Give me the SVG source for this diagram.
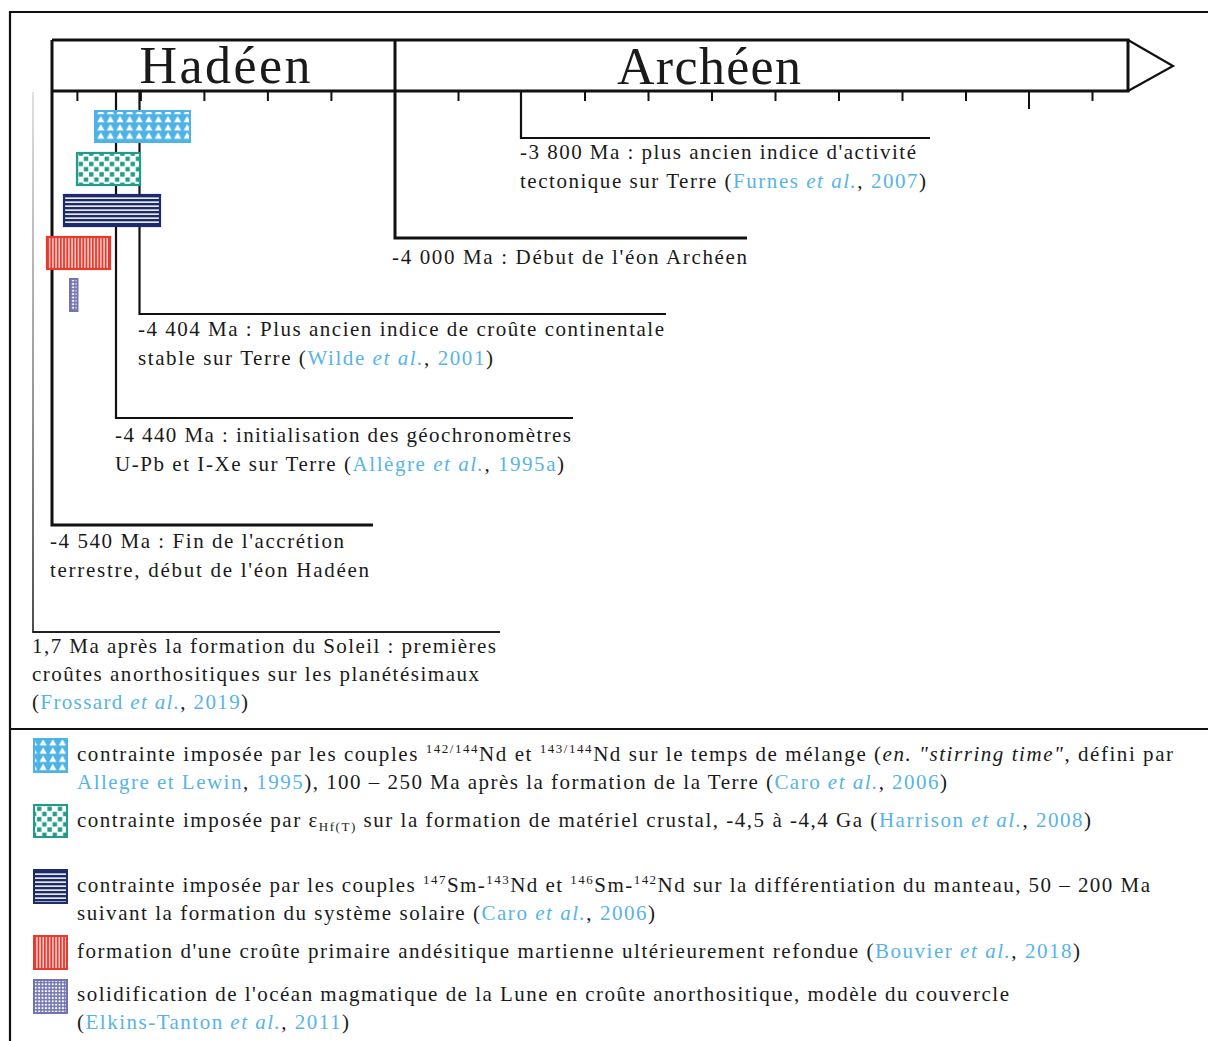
<svg xmlns="http://www.w3.org/2000/svg" width="1208" height="1041" viewBox="0 0 1208 1041">
<style>
text{font-family:"Liberation Serif","Times New Roman",serif;fill:#1a1a1a;}
.t{font-size:21px;}
.big{font-size:52px;}
.c{fill:#56b4e9;}
.i{font-style:italic;}
.sm{font-size:13px;}
.ln{stroke:#111;stroke-width:2.2;fill:none;}
.th{stroke:#111;stroke-width:3;fill:none;}
.tk{stroke:#111;stroke-width:2;}
</style>
<defs>
<pattern id="pTri" patternUnits="userSpaceOnUse" width="9.6" height="8.2">
<rect width="9.6" height="8.2" fill="#4db3e6"/>
<polygon points="1.2,7.6 4.8,1.2 8.4,7.6" fill="#fff"/>
</pattern>
<pattern id="pChk" patternUnits="userSpaceOnUse" width="10.4" height="10.4">
<rect width="10.4" height="10.4" fill="#fff"/>
<rect x="0.6" y="0.6" width="4.4" height="4.4" fill="#239b8a"/>
<rect x="5.8" y="5.8" width="4.4" height="4.4" fill="#239b8a"/>
</pattern>
<pattern id="pHor" patternUnits="userSpaceOnUse" width="4" height="4">
<rect width="4" height="4" fill="#1d2a6c"/>
<rect y="1.4" width="4" height="1.5" fill="#fff"/>
</pattern>
<pattern id="pVer" patternUnits="userSpaceOnUse" width="3.2" height="4">
<rect width="3.2" height="4" fill="#e53a2e"/>
<rect x="1.1" width="1.1" height="4" fill="#fff"/>
</pattern>
<pattern id="pDot" patternUnits="userSpaceOnUse" width="3.4" height="3.4">
<rect width="3.4" height="3.4" fill="#7174b0"/>
<circle cx="1.7" cy="1.7" r="1.1" fill="#fff"/>
</pattern>
<linearGradient id="gGray" gradientUnits="userSpaceOnUse" x1="0" y1="92" x2="0" y2="632">
<stop offset="0" stop-color="#d8d8d8"/>
<stop offset="0.6" stop-color="#777"/>
<stop offset="1" stop-color="#222"/>
</linearGradient>
</defs>

<g id="frame">
<path d="M10,1041 V12 H1208" class="ln"/>
<line x1="10" y1="729" x2="1208" y2="729" class="ln"/>
</g>

<g id="timeline-bar">
<path d="M52,40 H1128 V91 H52" class="th"/>
<path d="M1128,40 L1173,66 L1128,91" fill="none" stroke="#111" stroke-width="2.2"/>
<line x1="395" y1="40" x2="395" y2="91" class="th"/>
<text class="big" x="225" y="83" text-anchor="middle" textLength="171">Hadéen</text>
<text class="big" x="709" y="84" text-anchor="middle" textLength="184">Archéen</text>
<g id="ticks">
<line class="tk" x1="77.4" y1="91" x2="77.4" y2="101"/>
<line class="tk" x1="140.9" y1="91" x2="140.9" y2="101"/>
<line class="tk" x1="204.4" y1="91" x2="204.4" y2="101"/>
<line class="tk" x1="267.9" y1="91" x2="267.9" y2="101"/>
<line class="tk" x1="331.4" y1="91" x2="331.4" y2="101"/>
<line class="tk" x1="458.5" y1="91" x2="458.5" y2="101"/>
<line class="tk" x1="585" y1="91" x2="585" y2="101"/>
<line class="tk" x1="648.5" y1="91" x2="648.5" y2="101"/>
<line class="tk" x1="712" y1="91" x2="712" y2="101"/>
<line class="tk" x1="775.5" y1="91" x2="775.5" y2="101"/>
<line class="tk" x1="839" y1="91" x2="839" y2="101"/>
<line class="tk" x1="902.5" y1="91" x2="902.5" y2="101"/>
<line class="tk" x1="966" y1="91" x2="966" y2="101"/>
<line class="tk" x1="1029" y1="91" x2="1029" y2="109"/>
<line class="tk" x1="1092.5" y1="91" x2="1092.5" y2="101"/>
</g>
</g>

<g id="connectors">
<path d="M52,40 V525 H373" class="th"/>
<path d="M116,91 V418 H573" class="ln"/>
<path d="M139.5,91 V314 H666" class="ln"/>
<path d="M395,91 V238 H747" class="th"/>
<path d="M521,91 V138 H930" class="ln"/>
<path d="M33,92 V632" stroke="url(#gGray)" stroke-width="1.6" fill="none"/>
<path d="M32.2,632 H500" stroke="#222" stroke-width="1.8" fill="none"/>
</g>

<g id="box-stirring"><rect x="95" y="111" width="95" height="31" fill="url(#pTri)" stroke="#4db3e6" stroke-width="2"/></g>
<g id="box-hf"><rect x="77" y="153" width="63" height="32" fill="url(#pChk)" stroke="#239b8a" stroke-width="2.2"/></g>
<g id="box-sm"><rect x="64" y="195" width="96" height="31" fill="url(#pHor)" stroke="#1d2a6c" stroke-width="2.2"/></g>
<g id="box-mars"><rect x="47" y="237" width="63" height="32" fill="url(#pVer)" stroke="#e53a2e" stroke-width="2.2"/></g>
<g id="box-lune"><rect x="70" y="279" width="7.5" height="32" fill="url(#pDot)" stroke="#7174b0" stroke-width="2"/></g>

<g id="ev-3800">
<text class="t" x="520" y="159" textLength="396">-3 800 Ma : plus ancien indice d'activité</text>
<text class="t" x="520" y="188" textLength="406">tectonique sur Terre (<tspan class="c">Furnes <tspan class="i">et al.</tspan></tspan>, <tspan class="c">2007</tspan>)</text>
</g>
<g id="ev-4000">
<text class="t" x="392" y="264" textLength="355">-4 000 Ma : Début de l'éon Archéen</text>
</g>
<g id="ev-4404">
<text class="t" x="138" y="336" textLength="526">-4 404 Ma : Plus ancien indice de croûte continentale</text>
<text class="t" x="138" y="365" textLength="355">stable sur Terre (<tspan class="c">Wilde <tspan class="i">et al.</tspan></tspan>, <tspan class="c">2001</tspan>)</text>
</g>
<g id="ev-4440">
<text class="t" x="115" y="442" textLength="456">-4 440 Ma : initialisation des géochronomètres</text>
<text class="t" x="115" y="471" textLength="449">U-Pb et I-Xe sur Terre (<tspan class="c">Allègre <tspan class="i">et al.</tspan></tspan>, <tspan class="c">1995a</tspan>)</text>
</g>
<g id="ev-4540">
<text class="t" x="50" y="548" textLength="294">-4 540 Ma : Fin de l'accrétion</text>
<text class="t" x="50" y="577" textLength="319">terrestre, début de l'éon Hadéen</text>
</g>
<g id="ev-soleil">
<text class="t" x="32" y="653" textLength="464">1,7 Ma après la formation du Soleil : premières</text>
<text class="t" x="32" y="681" textLength="447">croûtes anorthositiques sur les planétésimaux</text>
<text class="t" x="32" y="709" textLength="216">(<tspan class="c">Frossard <tspan class="i">et al.</tspan></tspan>, <tspan class="c">2019</tspan>)</text>
</g>

<g id="legend">
<g id="leg-stirring">
<rect x="34" y="739" width="33" height="33" fill="url(#pTri)" stroke="#4db3e6" stroke-width="2"/>
<text class="t" x="77" y="761" textLength="1096">contrainte imposée par les couples <tspan class="sm" dy="-8">142/144</tspan><tspan dy="8">Nd et </tspan><tspan class="sm" dy="-8">143/144</tspan><tspan dy="8">Nd sur le temps de mélange (</tspan><tspan class="i">en. "stirring time"</tspan>, défini par</text>
<text class="t" x="77" y="789" textLength="870"><tspan class="c">Allegre et Lewin</tspan>, <tspan class="c">1995</tspan>), 100 – 250 Ma après la formation de la Terre (<tspan class="c">Caro <tspan class="i">et al.</tspan></tspan>, <tspan class="c">2006</tspan>)</text>
</g>
<g id="leg-hf">
<rect x="34" y="805" width="33" height="32" fill="url(#pChk)" stroke="#239b8a" stroke-width="2"/>
<text class="t" x="77" y="827" textLength="1014">contrainte imposée par ε<tspan class="sm" dy="4">Hf(T)</tspan><tspan dy="-4"> sur la formation de matériel crustal, -4,5 à -4,4 Ga (</tspan><tspan class="c">Harrison <tspan class="i">et al.</tspan></tspan>, <tspan class="c">2008</tspan>)</text>
</g>
<g id="leg-sm">
<rect x="34" y="870" width="33" height="33" fill="url(#pHor)" stroke="#1d2a6c" stroke-width="2"/>
<text class="t" x="77" y="892" textLength="1073">contrainte imposée par les couples <tspan class="sm" dy="-8">147</tspan><tspan dy="8">Sm-</tspan><tspan class="sm" dy="-8">143</tspan><tspan dy="8">Nd et </tspan><tspan class="sm" dy="-8">146</tspan><tspan dy="8">Sm-</tspan><tspan class="sm" dy="-8">142</tspan><tspan dy="8">Nd sur la différentiation du manteau, 50 – 200 Ma</tspan></text>
<text class="t" x="77" y="920" textLength="578">suivant la formation du système solaire (<tspan class="c">Caro <tspan class="i">et al.</tspan></tspan>, <tspan class="c">2006</tspan>)</text>
</g>
<g id="leg-mars">
<rect x="34" y="936" width="33" height="33" fill="url(#pVer)" stroke="#e53a2e" stroke-width="2"/>
<text class="t" x="77" y="958" textLength="1003">formation d'une croûte primaire andésitique martienne ultérieurement refondue (<tspan class="c">Bouvier <tspan class="i">et al.</tspan></tspan>, <tspan class="c">2018</tspan>)</text>
</g>
<g id="leg-lune">
<rect x="34" y="980" width="33" height="33" fill="url(#pDot)" stroke="#7174b0" stroke-width="2"/>
<text class="t" x="77" y="1001" textLength="932">solidification de l'océan magmatique de la Lune en croûte anorthositique, modèle du couvercle</text>
<text class="t" x="77" y="1029" textLength="272">(<tspan class="c">Elkins-Tanton <tspan class="i">et al.</tspan></tspan>, <tspan class="c">2011</tspan>)</text>
</g>
</g>
</svg>
